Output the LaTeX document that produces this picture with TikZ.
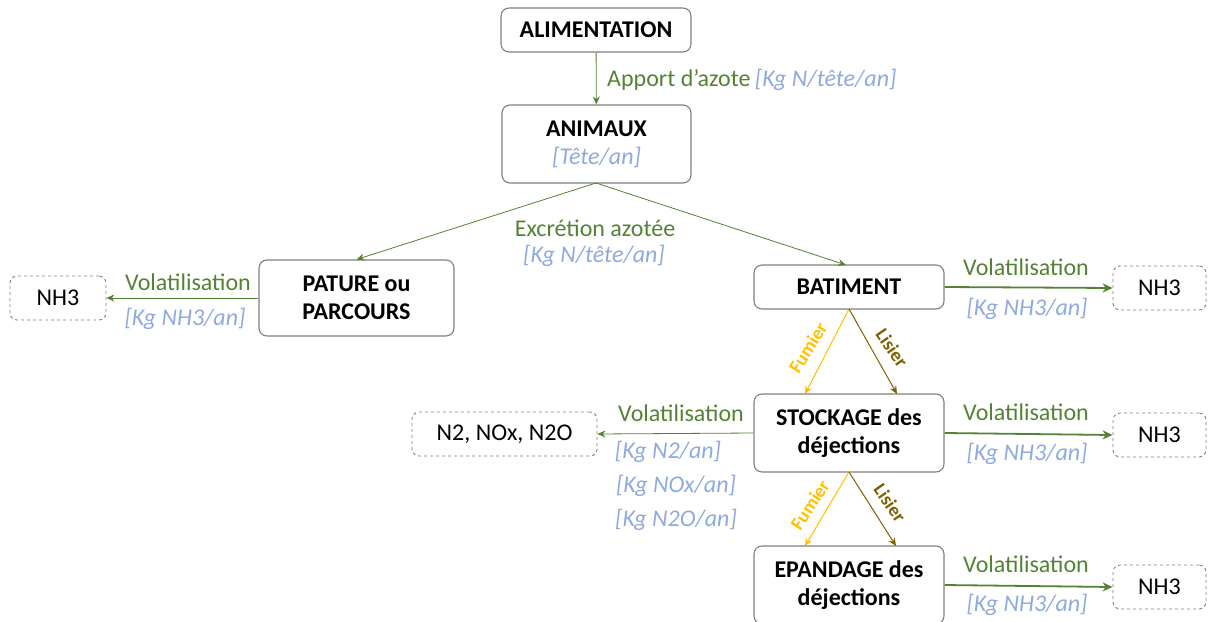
\documentclass[tikz,border=0pt]{standalone}
\usepackage{fontspec}
\setmainfont{Carlito}
\usetikzlibrary{arrows.meta}
\definecolor{flowgreen}{HTML}{548235}
\definecolor{unitblue}{HTML}{8FAADC}
\definecolor{fumier}{HTML}{FFC000}
\definecolor{lisier}{HTML}{7F6000}
\definecolor{boxgray}{HTML}{7F7F7F}
\tikzset{
  stage/.style={draw=boxgray, line width=1.1pt, rounded corners=8pt, fill=white,
    align=center, font=\fontsize{24}{27}\selectfont\bfseries, inner sep=0pt},
  gas/.style={draw=boxgray, dashed, line width=0.9pt, rounded corners=7pt,
    minimum width=93pt, minimum height=44pt, font=\fontsize{24}{27}\selectfont, inner sep=0pt},
  thinflow/.style={draw=flowgreen, line width=0.8pt, -{Stealth[length=8pt,width=7pt]}},
  thickflow/.style={draw=flowgreen, line width=1.8pt, -{Stealth[length=10pt,width=9pt]}},
  fumflow/.style={draw=fumier, line width=1pt, -{Stealth[length=8pt,width=7pt]}},
  lisflow/.style={draw=lisier, line width=1pt, -{Stealth[length=8pt,width=7pt]}},
  flowlbl/.style={text=flowgreen, font=\fontsize{24}{27}\selectfont, inner sep=0pt},
  unit/.style={text=unitblue, font=\fontsize{24}{27}\selectfont\itshape, inner sep=0pt},
  kind/.style={font=\fontsize{19}{21}\selectfont\bfseries, inner sep=0pt},
}
\begin{document}
\begin{tikzpicture}[x=1pt, y=-1pt]
\useasboundingbox (0,0) rectangle (1209,621);

% process stages
\node[stage, minimum width=190pt, minimum height=44pt] (alim) at (596,30) {ALIMENTATION};
\node[stage, minimum width=189pt, minimum height=78pt] (anim) at (596.5,144)
  {ANIMAUX\\[1pt]{\mdseries\itshape\color{unitblue}[Tête/an]}};
\node[stage, minimum width=195pt, minimum height=76pt] (pat) at (356.5,298) {PATURE ou\\[1pt]PARCOURS};
\node[stage, minimum width=190pt, minimum height=44pt] (bat) at (849,287) {BATIMENT};
\node[stage, minimum width=190pt, minimum height=78pt] (sto) at (849,433) {STOCKAGE des\\[1pt]déjections};
\node[stage, minimum width=190pt, minimum height=78pt] (epa) at (849,585) {EPANDAGE des\\[1pt]déjections};

% gaseous losses
\node[gas, minimum width=96pt] (nh3a) at (58,298) {NH3};
\node[gas] (nh3b) at (1159.5,288) {NH3};
\node[gas, minimum width=185pt] (nox) at (504.5,434) {N2, NOx, N2O};
\node[gas] (nh3c) at (1159.5,435) {NH3};
\node[gas] (nh3d) at (1159.5,587) {NH3};

% nitrogen intake and excretion
\draw[thinflow] (alim) -- (anim);
\node[flowlbl, anchor=west] (apport) at (607,80) {Apport d’azote};
\node[unit, anchor=west] at (apport.east) {\,[Kg N/tête/an]};

\coordinate (anbot) at (596,183);
\draw[thinflow] (anbot) -- (pat.north);
\draw[thinflow] (anbot) -- (846,265);
\node[flowlbl] (excr) at (595,228) {Excrétion azotée};
\node[unit] at (594,256) {[Kg N/tête/an]};

% volatilisation on pasture
\draw[thinflow] (pat.west) -- (nh3a.east);
\node[flowlbl] at (188,282) {Volatilisation};
\node[unit] at (185,319) {[Kg NH3/an]};

% volatilisation in the building
\draw[thickflow] (bat.east) -- (nh3b.west);
\node[flowlbl] at (1026,267) {Volatilisation};
\node[unit] at (1027,309) {[Kg NH3/an]};

% building to storage
\coordinate (batbot) at (849,309);
\draw[fumflow] (batbot) -- (805,394);
\draw[lisflow] (batbot) -- (897,394);
\node[kind, text=fumier, rotate=58] at (808,348) {Fumier};
\node[kind, text=lisier, rotate=-55] at (892,348) {Lisier};

% losses from storage
\draw[thinflow] (sto.west) -- (nox.east);
\node[flowlbl] at (681,413) {Volatilisation};
\node[unit] at (668,452) {[Kg N2/an]};
\node[unit] at (676,486) {[Kg NOx/an]};
\node[unit] at (676,520) {[Kg N2O/an]};
\draw[thickflow] (sto.east) -- (nh3c.west);
\node[flowlbl] at (1026,412) {Volatilisation};
\node[unit] at (1027,454) {[Kg NH3/an]};

% storage to spreading
\coordinate (stobot) at (849,472);
\draw[fumflow] (stobot) -- (805,546);
\draw[lisflow] (stobot) -- (896,546);
\node[kind, text=fumier, rotate=57] at (810,505) {Fumier};
\node[kind, text=lisier, rotate=-55] at (890,503) {Lisier};

% volatilisation at spreading
\draw[thickflow] (epa.east) -- (nh3d.west);
\node[flowlbl] at (1026,564) {Volatilisation};
\node[unit] at (1027,605) {[Kg NH3/an]};
\end{tikzpicture}
\end{document}
